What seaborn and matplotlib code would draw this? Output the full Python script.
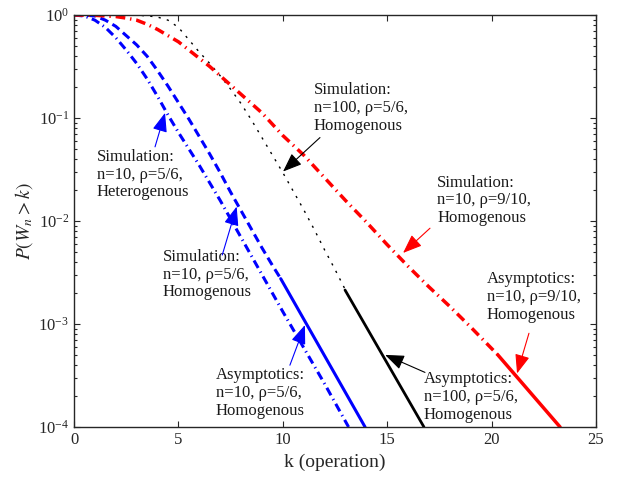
import matplotlib
matplotlib.use("Agg")
import matplotlib.pyplot as plt
import numpy as np
import seaborn as sns

# Values, stored as log10 of P(W_n > k)

# Simulation: n=10, rho=5/6, heterogeneous (blue dash-dot)
het_k = [0, 0.5, 1.0, 1.5, 2.0, 2.5, 3.0, 3.5, 4.0, 4.5, 5.0, 5.5, 6.0, 7.0,
         8.0, 9.0, 10.0, 11.0, 12.0, 13.15]
het_logp = [0, -0.01, -0.05, -0.12, -0.22, -0.34, -0.47, -0.62, -0.79, -0.97,
            -1.14, -1.30, -1.46, -1.80, -2.16, -2.52, -2.88, -3.23, -3.58, -4.0]

# Simulation: n=10, rho=5/6, homogeneous (blue dashed)
hom10_k = [0, 0.5, 1.0, 1.5, 2.0, 2.5, 3.0, 3.5, 4.0, 4.5, 5.0, 5.5, 6.0, 6.5,
           7.0, 7.5, 8.0, 8.5, 9.0, 9.5, 9.9]
hom10_logp = [0, 0, -0.01, -0.05, -0.11, -0.20, -0.29, -0.40, -0.54, -0.69,
              -0.85, -1.01, -1.18, -1.35, -1.53, -1.72, -1.90, -2.08, -2.26,
              -2.43, -2.56]

# Asymptotics: n=10, rho=5/6, homogeneous (blue solid)
asy10_k = [9.9, 13.94]
asy10_logp = [-2.56, -4.0]

# Simulation: n=100, rho=5/6, homogeneous (black dotted)
hom100_k = [0, 3.0, 3.5, 4.0, 4.5, 5.0, 5.5, 6.0, 6.5, 7.0, 7.5, 8.0, 8.5,
            9.0, 9.5, 10.0, 10.5, 11.0, 11.5, 12.0, 12.5, 13.0]
hom100_logp = [0, -0.002, -0.008, -0.02, -0.05, -0.12, -0.24, -0.36, -0.47,
               -0.59, -0.72, -0.86, -1.02, -1.19, -1.36, -1.53, -1.71, -1.89,
               -2.08, -2.28, -2.47, -2.67]

# Asymptotics: n=100, rho=5/6, homogeneous (black solid)
asy100_k = [12.98, 16.76]
asy100_logp = [-2.67, -4.0]

# Simulation: n=10, rho=9/10, homogeneous (red dash-dot)
rho9_k = [0, 1, 2, 2.5, 3, 3.5, 4, 4.5, 5, 5.5, 6, 6.5, 7, 7.5, 8, 8.5, 9,
          9.5, 10, 11, 12, 13, 14, 15, 16, 17, 18, 19, 20.3]
rho9_logp = [0, -0.003, -0.015, -0.03, -0.05, -0.09, -0.14, -0.20, -0.26,
             -0.34, -0.42, -0.50, -0.59, -0.68, -0.77, -0.86, -0.95, -1.06,
             -1.17, -1.36, -1.58, -1.80, -2.01, -2.23, -2.44, -2.64, -2.83,
             -3.03, -3.30]

# Asymptotics: n=10, rho=9/10, homogeneous (red solid)
asy9_k = [20.3, 23.28]
asy9_logp = [-3.30, -4.0]

sns.set_style("ticks")
plt.rcParams["font.family"] = ["Liberation Serif", "DejaVu Serif"]
plt.rcParams["mathtext.fontset"] = "stix"

fig = plt.figure(figsize=(6.21, 4.78), dpi=100)
ax = fig.add_axes([0.1192, 0.1067, 0.8405, 0.8619])
ax.set_yscale("log")

dashed = (0, (2.8, 1.6))
dashdot = (0, (2.8, 1.4, 0.4, 1.4))
dotted = (0, (1.6, 4.5))

series = [
    (het_k, het_logp, "#0000ff", 2.2, dashdot),
    (hom10_k, hom10_logp, "#0000ff", 2.2, dashed),
    (asy10_k, asy10_logp, "#0000ff", 2.2, "-"),
    (hom100_k, hom100_logp, "black", 1.0, dotted),
    (asy100_k, asy100_logp, "black", 2.0, "-"),
    (rho9_k, rho9_logp, "#ff0000", 2.5, dashdot),
    (asy9_k, asy9_logp, "#ff0000", 2.5, "-"),
]
for ks, logp, color, lw, ls in series:
    sns.lineplot(x=np.array(ks), y=10.0 ** np.array(logp), color=color,
                 linewidth=lw, linestyle=ls, ax=ax)

ax.set_xlim(0, 25)
ax.set_ylim(1e-4, 1)
ax.set_xticks([0, 5, 10, 15, 20, 25])
ax.tick_params(which="both", direction="in", top=True, right=True,
               labelsize=12, width=0.8)
ax.tick_params(which="major", length=4)
ax.tick_params(which="minor", length=2)
for side in ax.spines.values():
    side.set_linewidth(1.0)
ax.set_xlabel("k (operation)", fontsize=14, labelpad=4)
ax.set_ylabel(r"$P(W_n > k)$", fontsize=14, labelpad=2)

notes = [
    ("Simulation:\nn=10, ρ=5/6,\nHeterogenous", (1.10, -1.55),
     (3.88, -1.28), (4.36, -0.95), "#0000ff"),
    ("Simulation:\nn=10, ρ=5/6,\nHomogenous", (4.26, -2.52),
     (7.10, -2.33), (7.79, -1.86), "#0000ff"),
    ("Asymptotics:\nn=10, ρ=5/6,\nHomogenous", (6.80, -3.67),
     (10.34, -3.40), (11.06, -3.01), "#0000ff"),
    ("Simulation:\nn=100, ρ=5/6,\nHomogenous", (11.49, -0.90),
     (11.78, -1.19), (10.01, -1.52), "black"),
    ("Simulation:\nn=10, ρ=9/10,\nHomogenous", (17.39, -1.80),
     (17.05, -2.07), (15.76, -2.31), "#ff0000"),
    ("Asymptotics:\nn=10, ρ=9/10,\nHomogenous", (19.78, -2.74),
     (21.79, -3.09), (21.22, -3.48), "#ff0000"),
    ("Asymptotics:\nn=100, ρ=5/6,\nHomogenous", (16.76, -3.71),
     (16.81, -3.47), (14.90, -3.30), "black"),
]
for label, (tx, ty), (ax0, ay0), (ax1, ay1), color in notes:
    ax.text(tx, 10 ** ty, label, fontsize=12, ha="left", va="center",
            linespacing=1.15, color="#1a1a1a")
    ax.annotate("", xy=(ax1, 10 ** ay1), xytext=(ax0, 10 ** ay0),
                arrowprops=dict(arrowstyle="-|>,head_length=0.9,head_width=0.35",
                                color=color, lw=0.8, shrinkA=0, shrinkB=0,
                                mutation_scale=13))

fig.savefig("out.png", dpi=100)
plt.close(fig)
